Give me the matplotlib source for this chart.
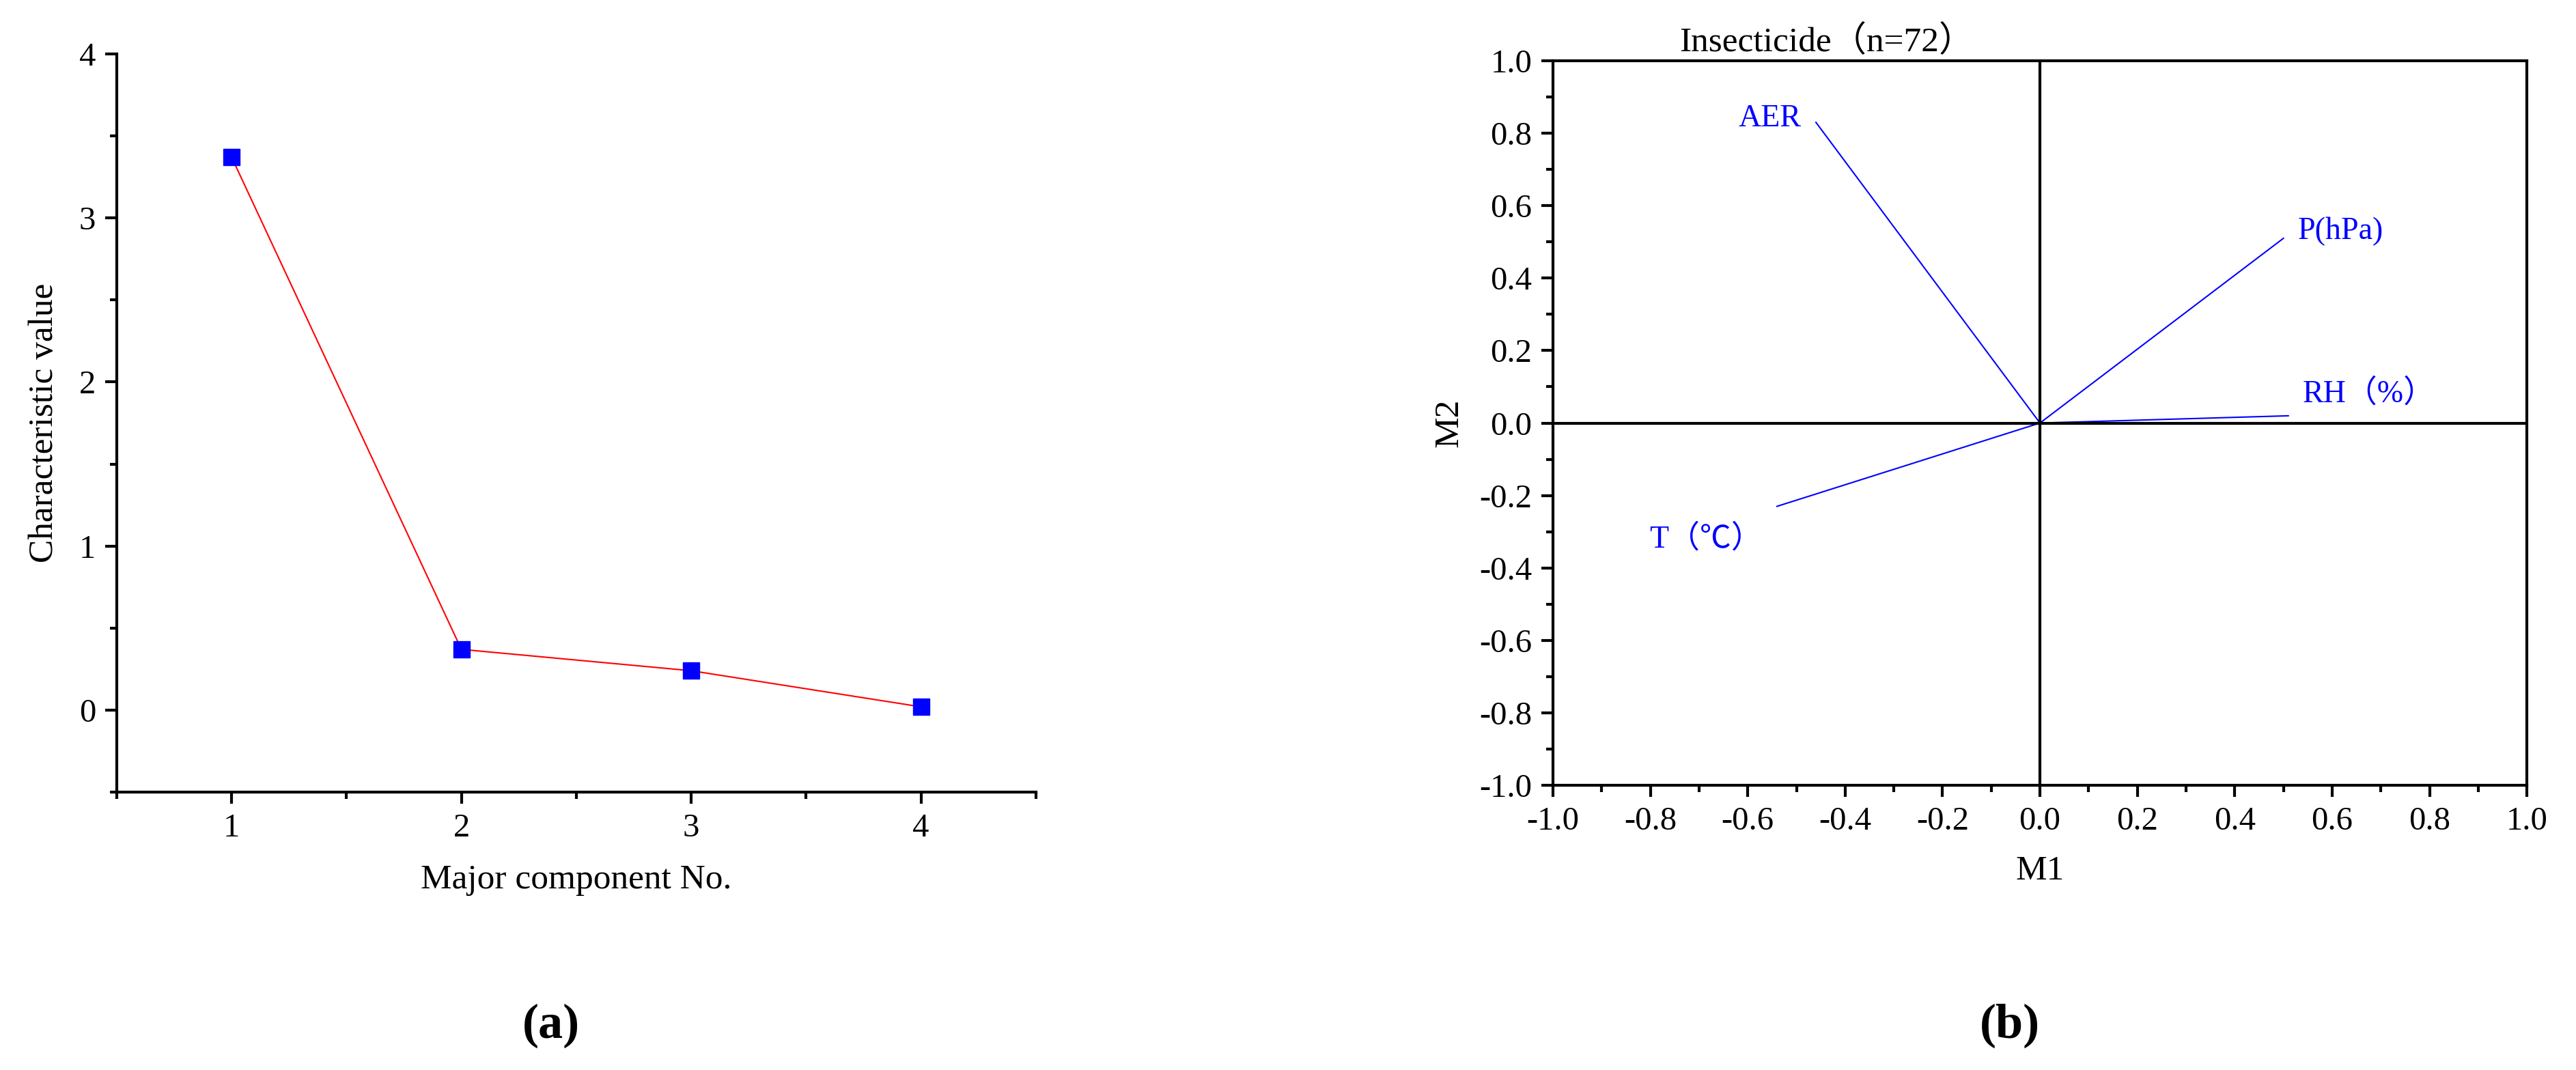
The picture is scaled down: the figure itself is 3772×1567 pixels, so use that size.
import matplotlib.pyplot as plt

plt.rcParams['font.family'] = ['Liberation Serif', 'Noto Sans CJK SC', 'DejaVu Serif']

components = [1, 2, 3, 4]
char_values = [3.37, 0.37, 0.24, 0.02]

var_names = ['AER', 'P(hPa)', 'RH（%）', 'T（℃）']
m1 = [-0.46, 0.50, 0.51, -0.54]
m2 = [0.83, 0.51, 0.02, -0.23]

fig = plt.figure(figsize=(37.73, 15.67), dpi=100)

# panel a
ax1 = fig.add_axes([0.0453, 0.2597, 0.3567, 0.69])
ax1.plot(components, char_values, color='red', lw=1.5, marker='s', ms=17,
         mfc='blue', mec='blue')
ax1.set_xlim(0.5, 4.5)
ax1.set_ylim(-0.5, 4)
ax1.set_xticks([1, 2, 3, 4])
ax1.set_xticks([0.5, 1.5, 2.5, 3.5, 4.5], minor=True)
ax1.set_yticks([0, 1, 2, 3, 4])
ax1.set_yticks([-0.5, 0.5, 1.5, 2.5, 3.5], minor=True)
ax1.spines['top'].set_visible(False)
ax1.spines['right'].set_visible(False)
ax1.set_xlabel('Major component No.', fontsize=37, labelpad=22)
ax1.set_ylabel('Characteristic value', fontsize=37, labelpad=20)

# panel b
ax2 = fig.add_axes([0.6027, 0.2661, 0.378, 0.6771])
for x, y, name in zip(m1, m2, var_names):
    ax2.plot([0, x], [0, y], color='blue', lw=1.5)
ax2.axhline(0, color='black', lw=3)
ax2.axvline(0, color='black', lw=3)
ax2.text(-0.49, 0.84, 'AER', color='blue', fontsize=33, ha='right', va='center')
ax2.text(0.53, 0.53, 'P(hPa)', color='blue', fontsize=33, ha='left', va='center')
ax2.text(0.54, 0.08, 'RH（%）', color='blue', fontsize=33, ha='left', va='center')
ax2.text(-0.57, -0.32, 'T（℃）', color='blue', fontsize=33, ha='right', va='center')
ax2.set_xlim(-1, 1)
ax2.set_ylim(-1, 1)
ticks = [-1.0, -0.8, -0.6, -0.4, -0.2, 0.0, 0.2, 0.4, 0.6, 0.8, 1.0]
ax2.set_xticks(ticks)
ax2.set_yticks(ticks)
ax2.set_xticks([t + 0.1 for t in ticks[:-1]], minor=True)
ax2.set_yticks([t + 0.1 for t in ticks[:-1]], minor=True)
ax2.set_xticklabels(['%.1f' % t for t in ticks])
ax2.set_yticklabels(['%.1f' % t for t in ticks])
ax2.set_xlabel('M1', fontsize=37, labelpad=20)
ax2.set_ylabel('M2', fontsize=37, labelpad=15)
ax2.set_title('Insecticide（n=72）', fontsize=37, loc='left', x=0.13, pad=10)

for ax in (ax1, ax2):
    for s in ax.spines.values():
        s.set_linewidth(3)
    ax.tick_params(which='major', length=12, width=3, labelsize=35, pad=10)
    ax.tick_params(which='minor', length=7, width=3)

fig.text(0.214, 0.03, '(a)', fontsize=52, fontweight='bold', ha='center')
fig.text(0.78, 0.03, '(b)', fontsize=52, fontweight='bold', ha='center')

fig.savefig('out.png', dpi=100, facecolor='white')
